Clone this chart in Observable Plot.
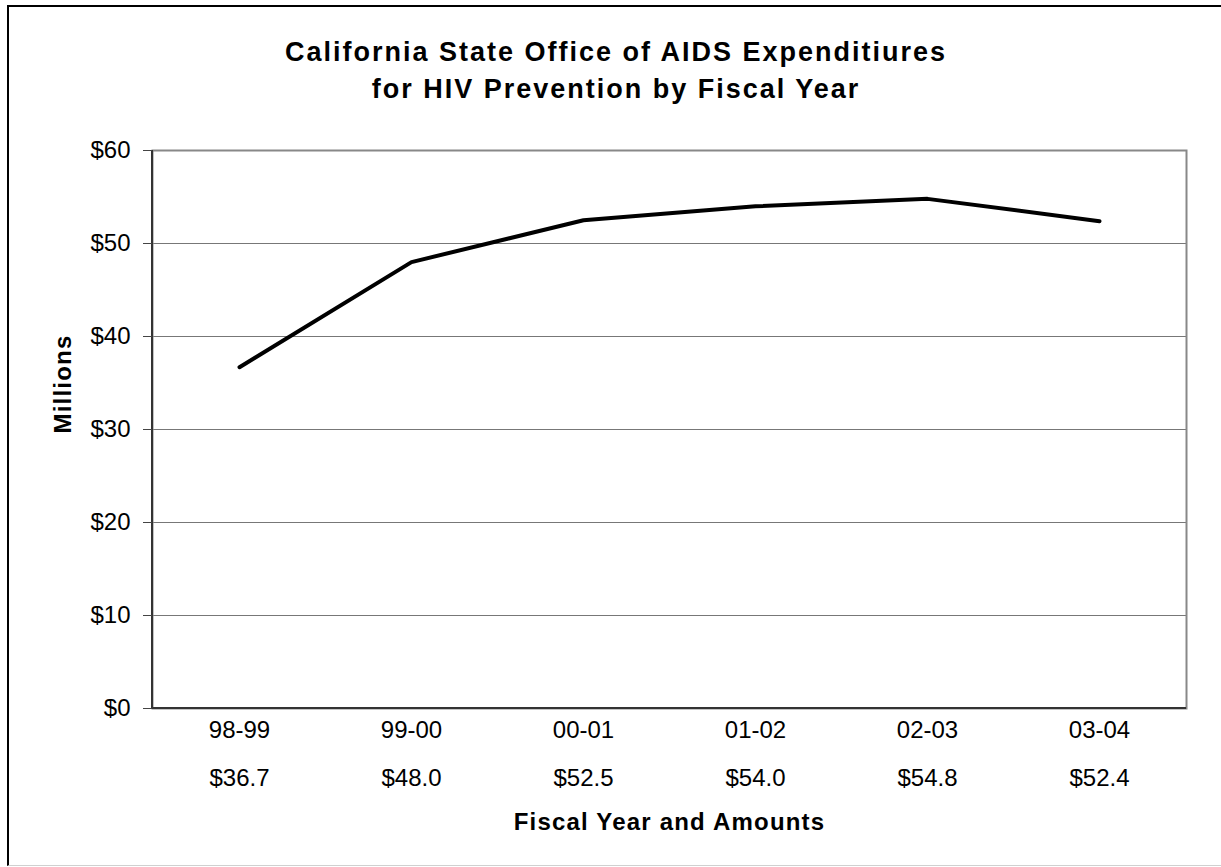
<!DOCTYPE html>
<html>
<head>
<meta charset="utf-8">
<script src="https://cdn.jsdelivr.net/npm/d3@7"></script>
<script src="https://cdn.jsdelivr.net/npm/@observablehq/plot@0.6"></script>
<style>
  html, body { margin: 0; padding: 0; background: #fff; }
  #wrap { position: relative; width: 1221px; height: 867px; overflow: hidden; font-family: "Liberation Sans", Arial, sans-serif; }
  #title { position: absolute; top: 34.4px; left: 616px; transform: translateX(-50%); white-space: nowrap; text-align: center;
           font-size: 27px; font-weight: bold; letter-spacing: 2px; line-height: 36.5px; color: #000; }
  #border { position: absolute; left: 7px; top: 5px; width: 1214px; height: 861px; border-top: 2px solid #000; border-left: 2px solid #000;
            border-bottom: 1px solid #d0d0d0; box-sizing: border-box; pointer-events: none; }
  #chart { position: absolute; left: 0; top: 0; }
</style>
</head>
<body>
<div id="wrap">
  <div id="chart"></div>
  <div id="title">California State Office of AIDS Expenditiures<br>for HIV Prevention by Fiscal Year</div>
  <div id="border"></div>
</div>
<script>
const fiscalYears = ["98-99", "99-00", "00-01", "01-02", "02-03", "03-04"];
const expenditures = [36.7, 48.0, 52.5, 54.0, 54.8, 52.4];
const yTicks = [0, 10, 20, 30, 40, 50, 60];
const yLabel = "Millions";
const xLabel = "Fiscal Year and Amounts";

const data = fiscalYears.map((fy, i) => ({fy, value: expenditures[i]}));
const amountByYear = new Map(data.map(d => [d.fy, "$" + d.value.toFixed(1)]));

const axisLines = (index, scales, values, dims) => {
  const g = d3.create("svg:g");
  const x0 = dims.marginLeft, x1 = dims.width - dims.marginRight;
  const yb = scales.y(0), yt = scales.y(60);
  g.append("line").attr("x1", x0).attr("x2", x0).attr("y1", yt).attr("y2", yb)
    .attr("stroke", "#333").attr("stroke-width", 2);
  g.append("line").attr("x1", x0 - 1).attr("x2", x1).attr("y1", yb).attr("y2", yb)
    .attr("stroke", "#333").attr("stroke-width", 2);
  return g.node();
};

const chart = Plot.plot({
  width: 1221,
  height: 867,
  marginLeft: 152,
  marginRight: 35,
  marginTop: 150,
  marginBottom: 159,
  style: {fontFamily: "'Liberation Sans', Arial, sans-serif", fontSize: "24px", color: "#000", background: "transparent"},
  x: {type: "point", domain: fiscalYears, padding: 0.5},
  y: {domain: [0, 60]},
  marks: [
    Plot.gridY(yTicks, {stroke: "#777", strokeOpacity: 1}),
    Plot.frame({stroke: "#888", strokeWidth: 2}),
    axisLines,
    Plot.axisY({ticks: yTicks, tickFormat: d => "$" + d, tickSize: 9, tickPadding: 13, stroke: "#444", label: null}),
    Plot.axisX({tickSize: 0, tickPadding: 12, label: null}),
    Plot.axisX({tickSize: 0, tickPadding: 60, tickFormat: d => amountByYear.get(d), label: null}),
    Plot.line(data, {x: "fy", y: "value", stroke: "#000", strokeWidth: 4, strokeLinejoin: "round"}),
    Plot.text([yLabel], {frameAnchor: "left", rotate: -90, dx: -89.5, dy: 4, fontWeight: "bold", lineAnchor: "middle"}),
    Plot.text([xLabel], {frameAnchor: "bottom", dy: 104, fontWeight: "bold", lineAnchor: "top"})
  ]
});

d3.select(chart).selectAll("text")
  .filter(function() { return this.textContent === yLabel || this.textContent === xLabel; })
  .style("letter-spacing", "1.2px");

document.getElementById("chart").appendChild(chart);
</script>
</body>
</html>
